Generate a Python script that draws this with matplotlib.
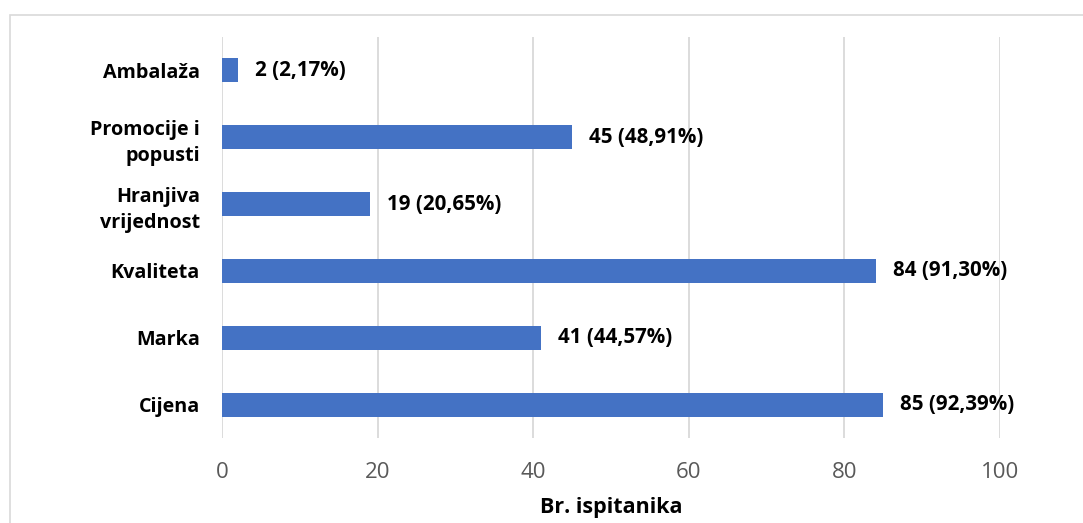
import matplotlib.pyplot as plt
from matplotlib.patches import Rectangle

plt.switch_backend('Agg')
plt.rcParams['font.family'] = ['Open Sans', 'DejaVu Sans']

# Data
categories = ['Cijena', 'Marka', 'Kvaliteta', 'Hranjiva\nvrijednost', 'Promocije i\npopusti', 'Ambalaža']
counts = [85, 41, 84, 19, 45, 2]
percents = ['92,39%', '44,57%', '91,30%', '20,65%', '48,91%', '2,17%']
x_ticks = [0, 20, 40, 60, 80, 100]

W, H = 1083, 523
fig = plt.figure(figsize=(W / 100, H / 100), dpi=100)

# axes placed in pixel coordinates
left, right, top, bottom = 222, 1000, 37, 438
ax = fig.add_axes([left / W, 1 - bottom / H, (right - left) / W, (bottom - top) / H])

ypos = list(range(len(categories)))
ax.barh(ypos, counts, height=0.36, color='#4472C4', zorder=3)

for y, c, p in zip(ypos, counts, percents):
    ax.text(c + 2.2, y, f'{c} ({p})', va='center', ha='left',
            fontsize=14.8, fontweight='bold', color='#000000')

ax.set_xlim(0, 100)
ax.set_ylim(-0.5, len(categories) - 0.5)
ax.set_xticks(x_ticks)
ax.set_yticks(ypos)
ax.set_yticklabels(categories, fontsize=14.2, fontweight='bold', color='#000000',
                   linespacing=1.45)
ax.tick_params(axis='x', labelsize=16, labelcolor='#595959', length=0, pad=17)
ax.tick_params(axis='y', length=0, pad=16)
ax.grid(axis='x', color='#D9D9D9', linewidth=1.3, zorder=0)
for s in ax.spines.values():
    s.set_visible(False)

ax.set_xlabel('Br. ispitanika', fontsize=15.5, fontweight='bold', color='#000000', labelpad=10)

# outer chart border
fig.patches.append(Rectangle((10 / W, -0.1), 1.2, 1 - 15 / H + 0.1,
                             transform=fig.transFigure, fill=False,
                             edgecolor='#D9D9D9', linewidth=1.2))

fig.savefig('out.png', dpi=100)
